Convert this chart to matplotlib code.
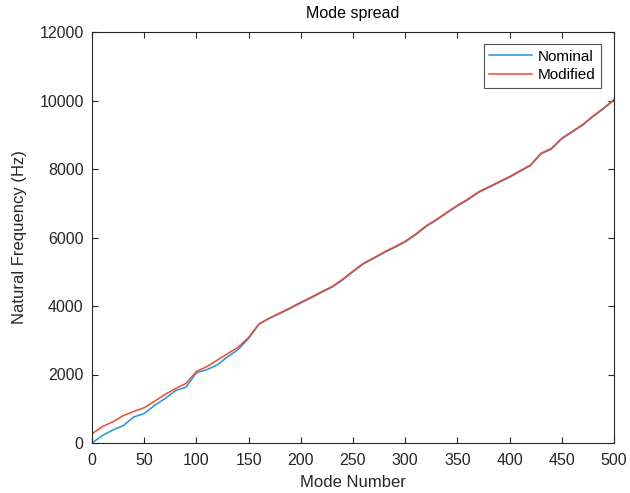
import numpy as np
import matplotlib
matplotlib.use("Agg")
import matplotlib.pyplot as plt

plt.rcParams['font.family'] = ['Liberation Sans', 'DejaVu Sans']

modes = list(range(0, 501, 10))
nominal = [0, 220, 380, 510, 760, 860, 1100, 1300, 1530, 1630,
           2050, 2140, 2280, 2520, 2730, 3050, 3470, 3640, 3780, 3930,
           4090, 4240, 4400, 4550, 4760, 5000, 5230, 5390, 5560, 5710,
           5870, 6080, 6320, 6510, 6720, 6920, 7100, 7310, 7460, 7610,
           7760, 7930, 8100, 8440, 8580, 8880, 9080, 9280, 9530, 9760,
           10010]
modified = [270, 480, 620, 800, 920, 1030, 1220, 1420, 1590, 1740,
            2090, 2230, 2420, 2610, 2800, 3080, 3480, 3650, 3800, 3950,
            4110, 4260, 4420, 4570, 4780, 5020, 5250, 5410, 5580, 5730,
            5890, 6100, 6340, 6530, 6740, 6940, 7120, 7330, 7480, 7630,
            7780, 7950, 8120, 8460, 8600, 8900, 9100, 9300, 9550, 9780,
            10030]

xticks = list(range(0, 501, 50))
yticks = list(range(0, 12001, 2000))

fig = plt.figure(figsize=(6.3, 4.93), dpi=100)
ax = fig.add_axes([92/630, 50/493, 522/630, 411/493])

ax.plot(modes, nominal, color='#1f95d8', lw=1.1, label='Nominal')
ax.plot(modes, modified, color='#f04a2e', lw=1.1, label='Modified')

ax.set_xlim(0, 500)
ax.set_ylim(0, 12000)
ax.set_xticks(xticks)
ax.set_yticks(yticks)
ax.tick_params(axis='both', direction='in', top=True, right=True, length=4, width=0.8,
               labelsize=11.5, colors='#262626')
ax.tick_params(axis='x', pad=7)
ax.tick_params(axis='y', pad=6)
for s in ax.spines.values():
    s.set_color('#262626')
    s.set_linewidth(0.8)

ax.set_xlabel('Mode Number', fontsize=12, color='#262626', labelpad=5)
ax.set_ylabel('Natural Frequency (Hz)', fontsize=12, color='#262626', labelpad=9)
ax.set_title('Mode spread', fontsize=11.5, color='black', pad=10)

leg = ax.legend(loc='upper right', bbox_to_anchor=(0.975, 0.97), borderaxespad=0,
                fontsize=11, handlelength=2.8, frameon=True, fancybox=False,
                edgecolor='#262626', borderpad=0.35, labelspacing=0.3, handletextpad=0.4)
leg.get_frame().set_linewidth(0.8)

fig.savefig('out.png', dpi=100)
